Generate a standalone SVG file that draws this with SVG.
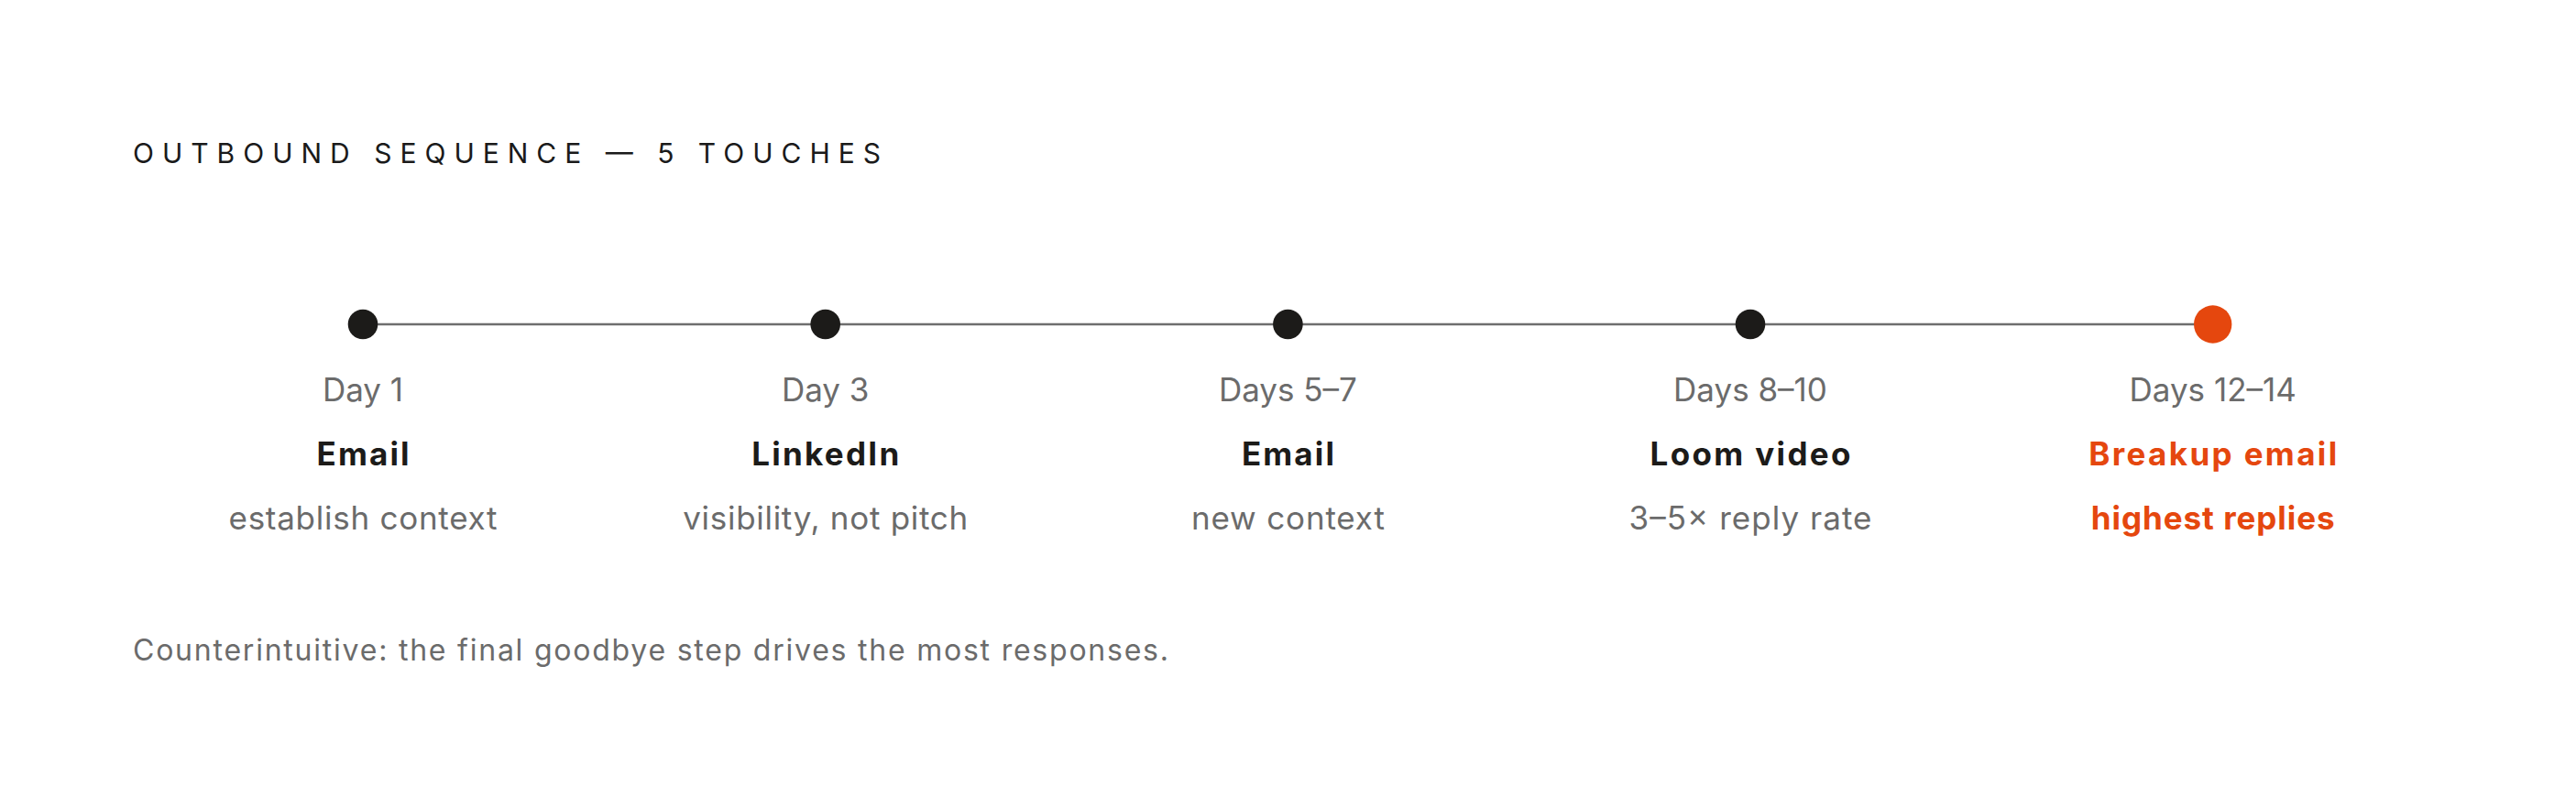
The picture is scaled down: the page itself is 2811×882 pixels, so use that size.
<svg xmlns="http://www.w3.org/2000/svg" width="2811" height="882" viewBox="0 0 2811 882">
<style>
text{font-family:Inter,"Liberation Sans",sans-serif;}
.title{font-size:30px;font-weight:400;fill:#1a1a1a;}
.day{font-size:35px;fill:#6b6b6b;text-anchor:middle;}
.name{font-size:35px;font-weight:700;fill:#1c1b19;text-anchor:middle;}
.sub{font-size:35px;fill:#6b6b6b;text-anchor:middle;}
.hot{fill:#e5470e;font-weight:700;}
.dot{fill:#1c1b19;}
.line{stroke:#6e6e6e;stroke-width:2.5;fill:none;}
.foot{font-size:32px;fill:#6b6b6b;}
</style>
<rect width="2811" height="882" fill="#ffffff"/>
<text class="title" x="145" y="178" textLength="816" lengthAdjust="spacing">OUTBOUND SEQUENCE — 5 TOUCHES</text>
<g id="connectors">
<line class="line" x1="396" y1="354" x2="900.7" y2="354"/>
<line class="line" x1="900.7" y1="354" x2="1405.4" y2="354"/>
<line class="line" x1="1405.4" y1="354" x2="1910" y2="354"/>
<line class="line" x1="1910" y1="354" x2="2414.7" y2="354"/>
</g>
<g id="step1">
<circle class="dot" cx="396" cy="354" r="16.3"/>
<text class="day" x="396" y="438">Day 1</text>
<text class="name" x="396" y="508" textLength="101" lengthAdjust="spacing">Email</text>
<text class="sub" x="396" y="578" textLength="293" lengthAdjust="spacing">establish context</text>
</g>
<g id="step2">
<circle class="dot" cx="900.7" cy="354" r="16.3"/>
<text class="day" x="900.7" y="438">Day 3</text>
<text class="name" x="900.7" y="508" textLength="161" lengthAdjust="spacing">LinkedIn</text>
<text class="sub" x="900.7" y="578" textLength="311" lengthAdjust="spacing">visibility, not pitch</text>
</g>
<g id="step3">
<circle class="dot" cx="1405.4" cy="354" r="16.3"/>
<text class="day" x="1405.4" y="438">Days 5–7</text>
<text class="name" x="1405.4" y="508" textLength="101" lengthAdjust="spacing">Email</text>
<text class="sub" x="1405.4" y="578" textLength="211" lengthAdjust="spacing">new context</text>
</g>
<g id="step4">
<circle class="dot" cx="1910" cy="354" r="16.3"/>
<text class="day" x="1910" y="438">Days 8–10</text>
<text class="name" x="1910" y="508" textLength="219" lengthAdjust="spacing">Loom video</text>
<text class="sub" x="1910" y="578" textLength="265" lengthAdjust="spacing">3–5× reply rate</text>
</g>
<g id="step5">
<circle cx="2414.7" cy="354" r="20.7" fill="#e5470e"/>
<text class="day" x="2414.7" y="438">Days 12–14</text>
<text class="name hot" x="2414.7" y="508" textLength="271" lengthAdjust="spacing">Breakup email</text>
<text class="sub hot" x="2414.7" y="578" textLength="266" lengthAdjust="spacing">highest replies</text>
</g>
<text class="foot" x="145" y="721" textLength="1130" lengthAdjust="spacing">Counterintuitive: the final goodbye step drives the most responses.</text>
</svg>
